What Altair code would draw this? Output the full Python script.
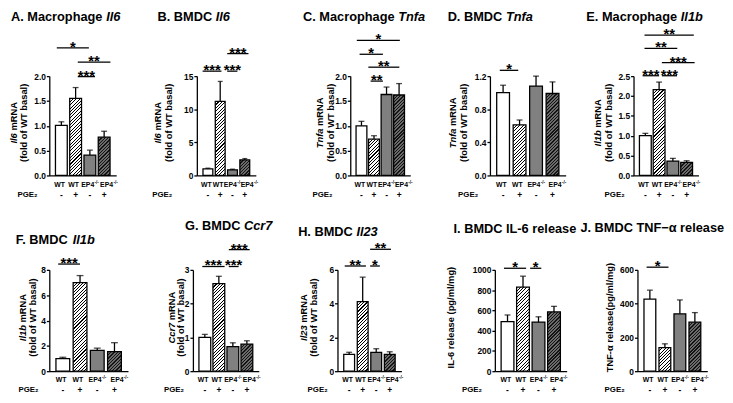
import altair as alt

FONT = "Liberation Sans"

# ---------------- data ----------------
GROUPS = ["WT", "WT", "EP4", "EP4"]
GROUP_SUP = ["", "", "-/-", "-/-"]
PGE2 = ["-", "+", "-", "+"]

A_MEAN = [1.01, 1.55, 0.41, 0.77]
A_TOP = [1.08, 1.77, 0.51, 0.89]
A_TICKS = [0.0, 0.5, 1.0, 1.5, 2.0]
A_SIG = [("*", -0.32, 1.93, 2.57), ("**", 1.15, 3.44, 2.28), ("***", 1.15, 2.36, 1.99)]

B_MEAN = [1.0, 11.2, 0.85, 2.35]
B_TOP = [1.1, 14.2, 0.95, 2.55]
B_TICKS = [0, 5, 10, 15]
B_SIG = [("***", -0.43, 1.1, 15.75), ("***", 1.57, 2.4, 15.75), ("***", 1.57, 3.3, 18.4)]

C_MEAN = [1.0, 0.73, 1.63, 1.62]
C_TOP = [1.09, 0.80, 1.78, 1.85]
C_TICKS = [0.0, 0.5, 1.0, 1.5, 2.0]
C_SIG = [("*", -0.37, 3.06, 2.72), ("*", -0.15, 1.71, 2.44), ("**", 0.55, 3.02, 2.18), ("**", 0.73, 1.71, 1.90)]

D_MEAN = [1.0, 0.61, 1.08, 0.99]
D_TOP = [1.09, 0.67, 1.2, 1.13]
D_TICKS = [0.0, 0.4, 0.8, 1.2]
D_SIG = [("*", -0.2, 0.92, 1.27)]

E_MEAN = [1.0, 2.16, 0.36, 0.33]
E_TOP = [1.06, 2.35, 0.43, 0.37]
E_TICKS = [0.0, 0.5, 1.0, 1.5, 2.0, 2.5]
E_SIG = [("**", -0.06, 3.52, 3.53), ("**", -0.06, 2.32, 3.20), ("***", 1.2, 3.58, 2.84),
         ("***", -0.2, 1.0, 2.51), ("***", 1.2, 2.3, 2.51)]

F_MEAN = [1.0, 7.0, 1.65, 1.55]
F_TOP = [1.1, 7.55, 1.82, 2.25]
F_TICKS = [0, 2, 4, 6, 8]
F_SIG = [("***", -0.27, 1.0, 8.46)]

G_MEAN = [1.0, 2.59, 0.73, 0.8]
G_TOP = [1.09, 2.81, 0.84, 0.9]
G_TICKS = [0, 1, 2, 3]
G_SIG = [("***", -0.18, 1.41, 3.1), ("***", 1.71, 2.41, 3.1), ("***", 1.71, 3.2, 3.6)]

H_MEAN = [1.0, 4.12, 1.12, 1.0]
H_TOP = [1.12, 5.57, 1.33, 1.15]
H_TICKS = [0, 2, 4, 6]
H_SIG = [("**", -0.33, 1.24, 6.23), ("*", 1.55, 2.27, 6.23), ("**", 1.55, 3.09, 7.22)]

I_MEAN = [490, 830, 485, 585]
I_TOP = [555, 938, 537, 640]
I_TICKS = [0, 200, 400, 600, 800, 1000]
I_SIG = [("*", -0.23, 1.2, 1016), ("*", 1.46, 2.18, 1016)]

J_MEAN = [427, 139, 340, 290]
J_TOP = [480, 162, 422, 347]
J_TICKS = [0, 200, 400, 600]
J_SIG = [("*", -0.22, 1.24, 616)]

TITLE_MAIN = {"A": "A. Macrophage", "B": "B. BMDC", "C": "C. Macrophage", "D": "D. BMDC",
              "E": "E. Macrophage", "F": "F. BMDC", "G": "G. BMDC", "H": "H. BMDC",
              "I": "I. BMDC IL-6 release", "J": "J. BMDC TNF−α release"}
TITLE_GENE = {"A": "Il6", "B": "Il6", "C": "Tnfa", "D": "Tnfa", "E": "Il1b",
              "F": "Il1b", "G": "Ccr7", "H": "Il23", "I": "", "J": ""}
YLAB_REST = {"I": "IL-6 release (pg/ml/mg)", "J": "TNF-α release(pg/ml/mg)"}
YLAB_LINE2 = "(fold of WT basal)"

# ---------------- layout / style ----------------
ROW_H = [101, 103]
ROW_B = [132, 125]          # bottom of each panel's box, measured from the plot top
TOP_SPACE = 65
LAYOUT = {
    "A": dict(W=68, L=39, R=35, tx=-39, ty=-60, y1=-36, y2=-25.4, pge=-12),
    "B": dict(W=60, L=47, R=38, tx=-40, ty=-60, y1=-39, y2=-28.4, pge=-25),
    "C": dict(W=61, L=58, R=26, tx=-48, ty=-60, y1=-30.6, y2=-20, pge=-18),
    "D": dict(W=77, L=55, R=15, tx=-43, ty=-60, y1=-37.3, y2=-26.7, pge=-12),
    "E": dict(W=66, L=54, R=18, tx=-48, ty=-60, y1=-36, y2=-25.3, pge=-9),
    "F": dict(W=80, L=39, R=23, tx=-34, ty=-30, y1=-26.7, y2=-16.4, pge=-11),
    "G": dict(W=67, L=43, R=35, tx=-8, ty=-45, y1=-21.5, y2=-12.3, pge=-9),
    "H": dict(W=65, L=45, R=35, tx=-40, ty=-38, y1=-34, y2=-24, pge=-10),
    "I": dict(W=73, L=60, R=14, tx=-42, ty=-42, y1=-44.3, y2=None, pge=-13),
    "J": dict(W=71, L=58, R=9, tx=-58, ty=-43, y1=-28.3, y2=None, pge=-13),
}
LABEL_SHIFT_PX = [-2, -2.5, 0, 5.5]   # genotype labels are spread a little wider than the bars
TITLE_FS = 13
YT_FS = 9.5
LAB_FS = 8.5
XLAB_FS = 7
SUP_FS = 4.6
SIG_FS = 15

CW = {' ': .278, '.': .278, '-': .333, '/': .278, 'A': .722, 'B': .722, 'C': .722, 'D': .722,
      'E': .667, 'F': .611, 'G': .778, 'H': .722, 'I': .278, 'J': .556, 'M': .833, 'N': .722,
      'P': .667, 'R': .722, 'T': .611, 'W': .944, 'a': .556, 'b': .611, 'c': .556, 'e': .556,
      'f': .333, 'g': .611, 'h': .611, 'l': .278, 'm': .889, 'n': .611, 'o': .611, 'p': .611,
      'r': .389, 's': .556, '1': .556, '2': .556, '3': .556, '4': .556, '6': .556, '7': .556}


def text_w(s, fs):
    return sum(CW.get(c, 0.6) for c in s) * fs


def hatch(bg, fg, w, h, period=3.4, frac=0.32):
    h = max(h, 1.0)
    s = (w + h) / (w * w + h * h)
    n = max(1, int(round((w + h) / period)))
    stops = []
    for k in range(n):
        o0, o1, o2 = k / n, (k + frac) / n, (k + 1) / n
        stops += [{"offset": o0, "color": fg}, {"offset": o1, "color": fg},
                  {"offset": o1, "color": bg}, {"offset": o2, "color": bg}]
    return {"gradient": "linear", "x1": 0, "y1": 0, "x2": s * w, "y2": s * h, "stops": stops}


ONE = alt.Data(values=[{"k": 0}])


def txt(x, y, s, fs, italic=False, align="left", angle=0, baseline="middle"):
    kw = dict(text=s, font=FONT, fontSize=fs, fontWeight="bold", align=align,
              baseline=baseline, color="black")
    if italic:
        kw["fontStyle"] = "italic"
    if angle:
        kw["angle"] = angle
    return alt.Chart(ONE).mark_text(**kw).encode(x=alt.value(x), y=alt.value(y))


def panel(k, mean, top, ticks, fmt, sig, row):
    lay = LAYOUT[k]
    H = ROW_H[row]
    W = lay["W"]
    step = W / 4
    ymax = ticks[-1]
    bw = round(step * 0.7)
    cap = round(bw * 0.5)
    xs = alt.Scale(domain=[-0.5, 3.5], nice=False, zero=False)
    ys = alt.Scale(domain=[0, ymax], nice=False, zero=False)

    rows = []
    for i in range(4):
        hpx = mean[i] / ymax * H
        if i == 0:
            f = "#ffffff"
        elif i == 1:
            f = hatch("#ffffff", "#000000", bw, hpx)
        elif i == 2:
            f = "#808080"
        else:
            f = hatch("#6b6b6b", "#141414", bw, hpx, frac=0.42)
        rows.append({"i": i, "m": mean[i], "u": top[i], "fill": f, "p": PGE2[i],
                     "g": GROUPS[i], "s": GROUP_SUP[i],
                     "lx": i + LABEL_SHIFT_PX[i] / step})
    bar_data = alt.Data(values=rows)
    plain = alt.Data(values=[r for r in rows if not r["s"]])
    supd = alt.Data(values=[r for r in rows if r["s"]])
    sig_data = alt.Data(values=[{"t": t, "x1": a, "x2": b, "xm": (a + b) / 2, "y": y}
                                for t, a, b, y in sig])

    xaxis = alt.Axis(values=[0, 1, 2, 3], labels=False, title=None, ticks=False,
                     grid=False, domainWidth=1.3, domainColor="black")
    yaxis = alt.Axis(values=ticks, format=fmt, title=None, grid=False, tickSize=3,
                     tickWidth=1.3, tickColor="black", domainWidth=1.3, domainColor="black",
                     labelFont=FONT, labelFontSize=LAB_FS, labelFontWeight="bold",
                     labelColor="black", labelPadding=1, labelFlush=False, labelOverlap=False)

    def X(f):
        return alt.X(f, scale=xs, axis=xaxis)

    def Y(f):
        return alt.Y(f, scale=ys, axis=yaxis)

    bars = alt.Chart(bar_data).mark_bar(width=bw, stroke="black", strokeWidth=1.3).encode(
        x=X("i:Q"), y=Y("m:Q"), fill=alt.Fill("fill:N", scale=None),
    )
    errs = alt.Chart(bar_data).mark_rule(strokeWidth=1.3, color="black").encode(
        x=X("i:Q"), y=Y("m:Q"), y2="u:Q",
    )
    caps = alt.Chart(bar_data).mark_tick(orient="horizontal", size=cap, thickness=1.3,
                                         color="black").encode(x=X("i:Q"), y=Y("u:Q"))
    tstyle = dict(font=FONT, fontWeight="bold", baseline="middle", color="black")
    # x labels: genotype (with superscript) and PGE2 row
    wmain = text_w("EP4", XLAB_FS)
    wsup = text_w("-/-", SUP_FS)
    lab_plain = alt.Chart(plain).mark_text(fontSize=XLAB_FS, **tstyle).encode(
        x=X("lx:Q"), y=alt.value(H + 9.5), text="g:N")
    lab_main = alt.Chart(supd).mark_text(fontSize=XLAB_FS, align="left",
                                         dx=-(wmain + wsup) / 2, **tstyle).encode(
        x=X("lx:Q"), y=alt.value(H + 9.5), text="g:N")
    lab_sup = alt.Chart(supd).mark_text(fontSize=SUP_FS, align="left",
                                        dx=-(wmain + wsup) / 2 + wmain + 0.3, **tstyle).encode(
        x=X("lx:Q"), y=alt.value(H + 7.4), text="s:N")
    pm = alt.Chart(bar_data).mark_text(fontSize=LAB_FS, **tstyle).encode(
        x=X("i:Q"), y=alt.value(H + 19.5), text="p:N")
    sig_rules = alt.Chart(sig_data).mark_rule(strokeWidth=1.3, color="black").encode(
        x=X("x1:Q"), x2="x2:Q", y=Y("y:Q"),
    )
    sig_text = alt.Chart(sig_data).mark_text(font=FONT, fontSize=SIG_FS, fontWeight="bold",
                                             baseline="alphabetic", dy=4, color="black").encode(
        x=X("xm:Q"), y=Y("y:Q"), text="t:N",
    )
    box = alt.Chart(ONE).mark_rect(opacity=0).encode(
        x=alt.value(-lay["L"]), x2=alt.value(W + lay["R"]),
        y=alt.value(-TOP_SPACE), y2=alt.value(ROW_B[row]))

    layers = [bars, errs, caps, sig_rules, sig_text, lab_plain, lab_main, lab_sup, pm, box]

    # panel title (gene name in italics)
    main = TITLE_MAIN[k]
    layers.append(txt(lay["tx"], lay["ty"], main, TITLE_FS))
    if TITLE_GENE[k]:
        gx = lay["tx"] + text_w(main + " ", TITLE_FS)
        layers.append(txt(gx, lay["ty"], TITLE_GENE[k], TITLE_FS, italic=True))

    # y-axis title
    ymid = H / 2 - 3
    if k in YLAB_REST:
        layers.append(txt(lay["y1"], ymid, YLAB_REST[k], YT_FS, align="center", angle=270))
    else:
        gene = TITLE_GENE[k]
        wg = text_w(gene, YT_FS)
        wm = text_w(" mRNA", YT_FS)
        ys_anchor = ymid + (wm - wg) / 2
        sp = text_w(" ", YT_FS)
        layers.append(txt(lay["y1"], ys_anchor, gene, YT_FS, italic=True, align="right", angle=270))
        layers.append(txt(lay["y1"], ys_anchor - sp, "mRNA", YT_FS, align="left", angle=270))
        layers.append(txt(lay["y2"], ymid, YLAB_LINE2, YT_FS, align="center", angle=270))

    # PGE2 row label
    layers.append(txt(lay["pge"], H + 19.5, "PGE₂", LAB_FS - 0.5, align="right"))

    return alt.layer(*layers).properties(width=W, height=H)


row1 = alt.hconcat(
    panel("A", A_MEAN, A_TOP, A_TICKS, ".1f", A_SIG, 0),
    panel("B", B_MEAN, B_TOP, B_TICKS, "d", B_SIG, 0),
    panel("C", C_MEAN, C_TOP, C_TICKS, ".1f", C_SIG, 0),
    panel("D", D_MEAN, D_TOP, D_TICKS, ".1f", D_SIG, 0),
    panel("E", E_MEAN, E_TOP, E_TICKS, ".1f", E_SIG, 0),
    spacing=0,
)
row2 = alt.hconcat(
    panel("F", F_MEAN, F_TOP, F_TICKS, "d", F_SIG, 1),
    panel("G", G_MEAN, G_TOP, G_TICKS, "d", G_SIG, 1),
    panel("H", H_MEAN, H_TOP, H_TICKS, "d", H_SIG, 1),
    panel("I", I_MEAN, I_TOP, I_TICKS, "d", I_SIG, 1),
    panel("J", J_MEAN, J_TOP, J_TICKS, "d", J_SIG, 1),
    spacing=0,
)

chart = (
    alt.vconcat(row1, row2, spacing=0)
    .properties(padding=0, background="white")
    .configure(font=FONT)
    .configure_view(stroke=None)
)

chart.save("out.html", embed_options={"renderer": "svg", "actions": False})
